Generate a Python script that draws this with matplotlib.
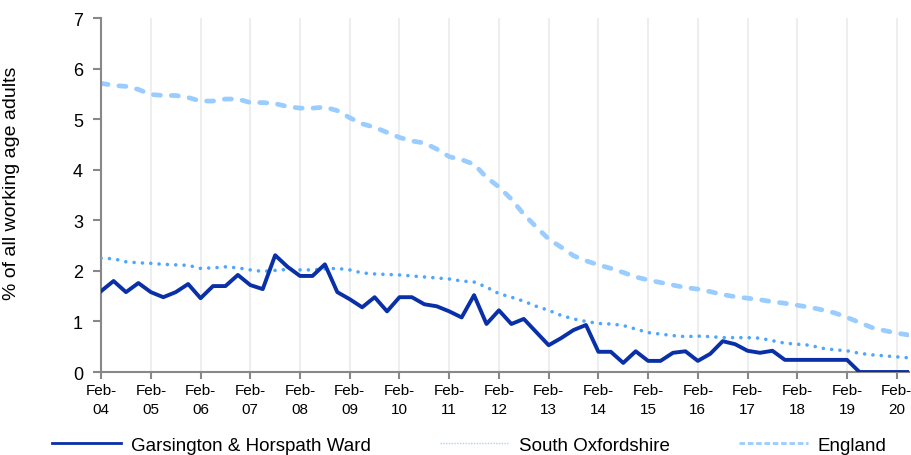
import numpy as np
import matplotlib.pyplot as plt
from matplotlib.lines import Line2D

# Quarterly claimant rates, Feb-04 to May-20 (% of working age adults)
garsington = [1.60, 1.80, 1.58, 1.76, 1.58, 1.48, 1.58, 1.74, 1.46, 1.70, 1.70, 1.92,
              1.72, 1.64, 2.31, 2.08, 1.90, 1.90, 2.13, 1.58, 1.44, 1.28, 1.48, 1.20,
              1.48, 1.48, 1.34, 1.30, 1.20, 1.08, 1.52, 0.95, 1.22, 0.95, 1.05, 0.79,
              0.53, 0.67, 0.83, 0.93, 0.40, 0.40, 0.18, 0.41, 0.22, 0.22, 0.38, 0.41,
              0.22, 0.36, 0.61, 0.55, 0.42, 0.38, 0.42, 0.24, 0.24, 0.24, 0.24, 0.24,
              0.24, 0.0, 0.0, 0.0, 0.0, 0.0]
south_oxon = [2.25, 2.24, 2.18, 2.16, 2.15, 2.13, 2.12, 2.11, 2.05, 2.06, 2.08, 2.06,
              2.02, 1.99, 2.01, 2.03, 2.02, 2.02, 2.04, 2.05, 2.02, 1.96, 1.94, 1.93,
              1.92, 1.90, 1.88, 1.86, 1.84, 1.80, 1.78, 1.68, 1.55, 1.48, 1.40, 1.30,
              1.22, 1.12, 1.05, 1.00, 0.96, 0.95, 0.92, 0.85, 0.78, 0.75, 0.72, 0.70,
              0.71, 0.70, 0.68, 0.68, 0.68, 0.67, 0.62, 0.57, 0.55, 0.53, 0.47, 0.44,
              0.42, 0.37, 0.34, 0.32, 0.30, 0.28]
england = [5.71, 5.67, 5.65, 5.59, 5.49, 5.47, 5.47, 5.43, 5.36, 5.36, 5.40, 5.40,
           5.33, 5.33, 5.31, 5.25, 5.22, 5.22, 5.24, 5.17, 5.03, 4.91, 4.84, 4.74,
           4.64, 4.57, 4.53, 4.41, 4.26, 4.20, 4.11, 3.85, 3.66, 3.42, 3.12, 2.87,
           2.63, 2.47, 2.30, 2.20, 2.12, 2.05, 1.97, 1.88, 1.82, 1.77, 1.72, 1.67,
           1.64, 1.59, 1.53, 1.49, 1.46, 1.43, 1.39, 1.36, 1.32, 1.28, 1.23, 1.17,
           1.08, 0.98, 0.88, 0.82, 0.77, 0.73]
years = ["04", "05", "06", "07", "08", "09", "10", "11", "12", "13",
         "14", "15", "16", "17", "18", "19", "20"]

q = np.arange(len(garsington))
plt.rcParams['font.family'] = ['Liberation Sans', 'DejaVu Sans']

fig = plt.figure(figsize=(9.11, 4.56), dpi=100)
ax = fig.add_axes([0.111, 0.182, 0.887, 0.776])

c_gar = '#0a30a8'
c_so = '#4ea6ff'
c_en = '#99ccff'

ax.plot(q, england, color=c_en, lw=3.4, linestyle=(0, (1.5, 2.3)),
        dash_capstyle='round', zorder=2)
ax.plot(q, south_oxon, color=c_so, lw=2.6, linestyle=(0, (0.01, 2.3)),
        dash_capstyle='round', zorder=3)
ax.plot(q, garsington, color=c_gar, lw=2.8, zorder=4)

ax.set_xlim(0, len(q) - 1)
ax.set_ylim(0, 7)
ax.set_xticks(np.arange(0, len(q), 4))
ax.set_xticklabels(["Feb-\n" + y for y in years], fontsize=11, linespacing=1.45)
ax.set_yticks(range(8))
ax.tick_params(axis='y', labelsize=13, length=6, width=1.5, color='#888888', pad=7)
ax.tick_params(axis='x', length=5, width=1.5, color='#888888', pad=3)
ax.grid(axis='x', color='#eeeeee', lw=1.5, zorder=0)
ax.set_axisbelow(True)

for s in ['top', 'right']:
    ax.spines[s].set_visible(False)
for s in ['left', 'bottom']:
    ax.spines[s].set_color('#888888')
    ax.spines[s].set_linewidth(1.5)

ax.set_ylabel("% of all working age adults", fontsize=14)
ax.yaxis.set_label_coords(-0.1, 0.535)

handles = [Line2D([], [], color=c_gar, lw=2),
           Line2D([], [], color=c_so, lw=1, linestyle=(0, (1, 1)), alpha=0.5),
           Line2D([], [], color=c_en, lw=2, linestyle=(0, (2, 1)))]
fig.legend(handles, ["Garsington & Horspath Ward", "South Oxfordshire", "England"],
           loc='center', bbox_to_anchor=(0.515, 0.022), ncol=3, frameon=False,
           fontsize=13.5, handlelength=3.7, columnspacing=3.7, handletextpad=0.5,
           borderpad=0, borderaxespad=0)

fig.savefig("out.png", dpi=100)
